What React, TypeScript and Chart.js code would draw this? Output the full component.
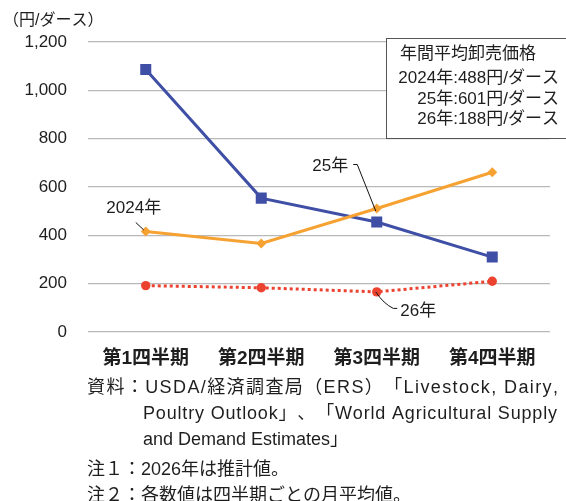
import { useEffect, useRef } from "react";
import { Chart, registerables } from "chart.js";

Chart.register(...registerables);

const categories = ["第1四半期", "第2四半期", "第3四半期", "第4四半期"];
const series2024 = [416, 366, 511, 661];
const series2025 = [1086, 554, 455, 310];
const series2026 = [192, 183, 166, 210];
const seriesNames = ["2024年", "25年", "26年"];
const yMin = 0;
const yMax = 1200;
const yStep = 200;
const unitLabel = "（円/ダース）";
const boxTitle = "年間平均卸売価格";
const boxLines = ["2024年:488円/ダース", "25年:601円/ダース", "26年:188円/ダース"];
const footLines = [
  "資料：USDA/経済調査局（ERS）「Livestock, Dairy,",
  "Poultry Outlook」、「World Agricultural Supply",
  "and Demand Estimates」",
  "注１：2026年は推計値。",
  "注２：各数値は四半期ごとの月平均値。",
];

const FONT = "'Liberation Sans', 'Noto Sans CJK JP', sans-serif";
const BLUE = "#3f4fa6";
const ORANGE = "#f6a233";
const RED = "#ec4330";
const TEXT = "#1e1e1e";

function drawJustified(ctx: CanvasRenderingContext2D, text: string, x: number, y: number, width: number) {
  const chars = Array.from(text);
  const widths = chars.map((c) => ctx.measureText(c).width);
  const total = widths.reduce((a, b) => a + b, 0);
  const extra = chars.length > 1 ? (width - total) / (chars.length - 1) : 0;
  let cx = x;
  chars.forEach((c, i) => {
    ctx.fillText(c, cx, y);
    cx += widths[i] + extra;
  });
}

const overlayPlugin = {
  id: "overlay",
  afterDraw(chart: any) {
    const ctx: CanvasRenderingContext2D = chart.ctx;
    const xs = chart.scales.x;
    const ys = chart.scales.y;
    ctx.save();
    ctx.fillStyle = TEXT;
    ctx.textBaseline = "middle";

    // unit label
    ctx.font = `16px ${FONT}`;
    ctx.textAlign = "left";
    ctx.fillText(unitLabel, 3, 21);

    // annotation box
    ctx.fillStyle = "#ffffff";
    ctx.fillRect(386.5, 38.5, 200, 100);
    ctx.strokeStyle = "#555555";
    ctx.lineWidth = 1;
    ctx.strokeRect(386.5, 38.5, 200, 100);
    ctx.fillStyle = TEXT;
    ctx.font = `17px ${FONT}`;
    ctx.textAlign = "left";
    ctx.fillText(boxTitle, 400, 54);
    ctx.textAlign = "right";
    const boxYs = [78.5, 99, 119];
    boxLines.forEach((t, i) => ctx.fillText(t, 559, boxYs[i]));

    // series labels with leaders
    ctx.strokeStyle = "#111111";
    ctx.lineWidth = 1;
    ctx.font = `17px ${FONT}`;

    // 2024
    {
      const px = xs.getPixelForValue(0);
      const py = ys.getPixelForValue(series2024[0]);
      ctx.textAlign = "center";
      ctx.fillText(seriesNames[0], px - 12, py - 23);
      ctx.beginPath();
      ctx.moveTo(px - 10, py - 9);
      ctx.lineTo(px - 2, py - 1.5);
      ctx.stroke();
    }
    // 25
    {
      const px = xs.getPixelForValue(2);
      const py = ys.getPixelForValue(series2024[2]);
      ctx.textAlign = "center";
      ctx.fillText(seriesNames[1], px - 46.5, py - 42.5);
      ctx.beginPath();
      ctx.moveTo(px - 23.5, py - 44);
      ctx.lineTo(px - 19.5, py - 44);
      ctx.lineTo(px - 1, py + 2.5);
      ctx.stroke();
    }
    // 26
    {
      const px = xs.getPixelForValue(2);
      const py = ys.getPixelForValue(series2026[2]);
      ctx.textAlign = "left";
      ctx.fillText(seriesNames[2], px + 23.5, py + 19);
      ctx.beginPath();
      ctx.moveTo(px - 1, py);
      ctx.quadraticCurveTo(px + 7, py + 12, px + 16.5, py + 16.5);
      ctx.lineTo(px + 20.5, py + 16.5);
      ctx.stroke();
    }

    // footnotes
    ctx.fillStyle = TEXT;
    ctx.font = `18px ${FONT}`;
    ctx.textAlign = "left";
    const fy = [388, 414, 440, 470, 496];
    drawJustified(ctx, footLines[0], 87, fy[0], 471);
    drawJustified(ctx, footLines[1], 143, fy[1], 414);
    ctx.fillText(footLines[2], 143, fy[2]);
    ctx.fillText(footLines[3], 87, fy[3]);
    ctx.fillText(footLines[4], 87, fy[4]);
    ctx.restore();
  },
};

export default function App() {
  const ref = useRef<HTMLCanvasElement | null>(null);
  useEffect(() => {
    if (!ref.current) return;
    const chart = new Chart(ref.current, {
      type: "line",
      data: {
        labels: categories,
        datasets: [
          {
            label: seriesNames[0],
            data: series2024,
            borderColor: ORANGE,
            backgroundColor: ORANGE,
            borderWidth: 3,
            pointStyle: "rectRot",
            pointRadius: 5,
            pointBorderWidth: 0,
          },
          {
            label: seriesNames[1],
            data: series2025,
            borderColor: BLUE,
            backgroundColor: BLUE,
            borderWidth: 3,
            pointStyle: "rect",
            pointRadius: 7.8,
            pointBorderWidth: 0,
          },
          {
            label: seriesNames[2],
            data: series2026,
            borderColor: RED,
            backgroundColor: RED,
            borderWidth: 3,
            borderDash: [3, 3],
            pointStyle: "circle",
            pointRadius: 4.7,
            pointBorderWidth: 0,
          },
        ],
      },
      options: {
        responsive: false,
        animation: false,
        devicePixelRatio: 1,
        layout: { padding: { top: 42, right: 16, left: 0, bottom: 0 } },
        plugins: {
          legend: { display: false },
          tooltip: { enabled: false },
        },
        elements: { line: { tension: 0 } },
        scales: {
          x: {
            offset: true,
            grid: { display: false, drawTicks: false },
            border: { display: false },
            ticks: {
              color: TEXT,
              padding: 15,
              font: { family: FONT, size: 19, weight: "bold" },
              maxRotation: 0,
              autoSkip: false,
            },
            afterFit: (s: any) => {
              s.height = 169;
            },
          },
          y: {
            min: yMin,
            max: yMax,
            grid: { color: "#b9b9b9", lineWidth: 1.2, drawTicks: false },
            border: { display: false },
            ticks: {
              stepSize: yStep,
              color: TEXT,
              padding: 21,
              font: { family: FONT, size: 17 },
              callback: (v: any) => Number(v).toLocaleString("en-US"),
            },
            afterFit: (s: any) => {
              s.width = 88;
            },
          },
        },
      },
      plugins: [overlayPlugin],
    });
    return () => chart.destroy();
  }, []);
  return (
    <div style={{ position: "fixed", left: 0, top: 0, width: 566, height: 501, background: "#fff" }}>
      <canvas ref={ref} width={566} height={501} />
    </div>
  );
}
